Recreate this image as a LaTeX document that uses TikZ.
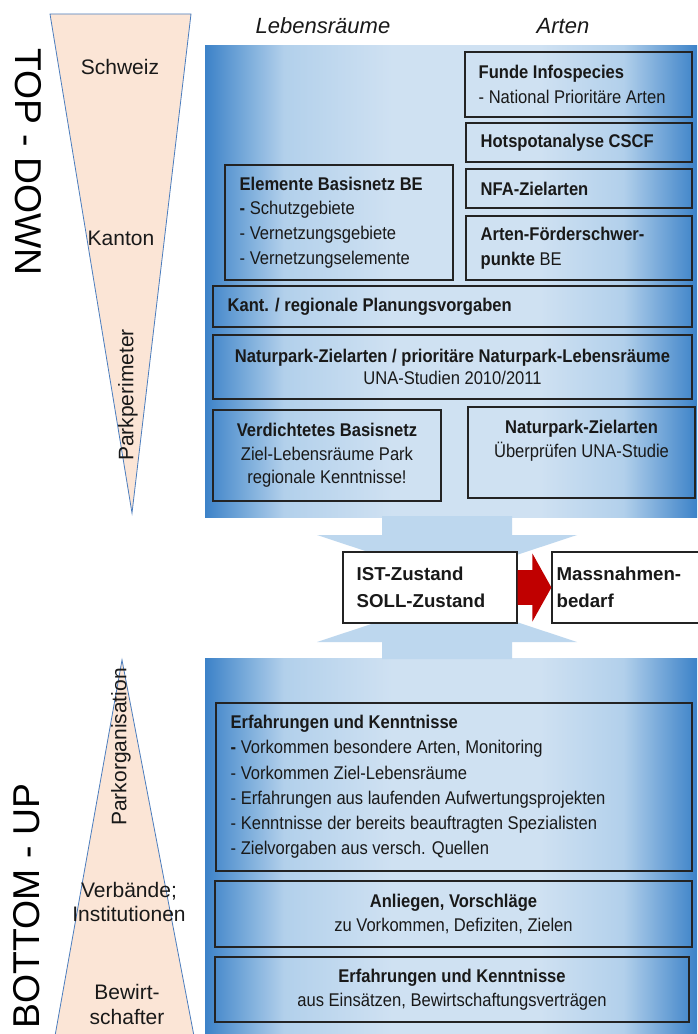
\documentclass[tikz,border=0pt]{standalone}
\usepackage{fontspec}
\setmainfont{Liberation Sans}
\newfontfamily\narrowfont{Liberation Sans}[FakeStretch=0.9]
\usepackage{tikz}
\usetikzlibrary{
	positioning,
	calc,
	fit
}
\definecolor{PanelDark}{RGB}{60,130,200}
\definecolor{PanelMid}{RGB}{178,208,235}
\definecolor{PanelLight}{RGB}{207,225,242}
\definecolor{ConePeach}{RGB}{251,229,214}
\definecolor{ConeLine}{RGB}{75,125,190}
\definecolor{FlowBlue}{RGB}{189,215,238}
\definecolor{FlowRed}{RGB}{192,0,0}
\definecolor{BoxLine}{RGB}{35,35,35}
\definecolor{TextGray}{RGB}{25,25,25}

\pgfdeclarehorizontalshading{panelshade}{100bp}{color(0bp)=(PanelDark); color(25bp)=(PanelDark); color(33bp)=(PanelMid); color(44bp)=(PanelLight); color(59bp)=(PanelLight); color(67.5bp)=(PanelMid); color(75bp)=(PanelDark); color(100bp)=(PanelDark)}

\begin{document}
\begin{tikzpicture}[
				x=0.75pt,
				y=-0.75pt,
				every node/.style={
					font=\narrowfont\fontsize{13.8}{18.75}\selectfont,
					text=TextGray,
					inner sep=0pt
				},
				box/.style={
					draw=BoxLine,
					line width=0.9pt,
					inner sep=0pt
				},
				lefttxt/.style={
					align=left,
					anchor=west
				},
				midtxt/.style={
					align=center
				},
				cone/.style={
					fill=ConePeach
				},
				conelabel/.style={
					font=\fontsize{15.75}{18}\selectfont,
					align=center
				},
				sidelabel/.style={
					font=\fontsize{28}{30}\selectfont,
					text=black
				},
				header/.style={
					font=\itshape\fontsize{16.5}{18}\selectfont
				},
				flowtxt/.style={
					font=\bfseries\fontsize{14}{19.8}\selectfont,
					align=left,
					anchor=west
				}
				]
				
				\useasboundingbox (0,0) rectangle (697,1034);
				\fill[white] (0,0) rectangle (697,1034);
				
				% Kegel links
				\fill[cone] (50,14) -- (191,14) -- (132,513) -- cycle;
				\draw[ConeLine, line width=0.6pt] (50,14) -- (191,14) -- (132,513) -- cycle;
				\fill[cone] (55,1036) -- (122,660) -- (194,1036) -- cycle;
				\draw[ConeLine, line width=0.6pt] (55,1036) -- (122,660) -- (194,1036);
				
				\node[sidelabel, rotate=-90] (topdown) at (28,162) {TOP - DOWN};
				\node[sidelabel, rotate=90] (bottomup) at (27,906) {BOTTOM - UP};
				
				\node[conelabel] (schweiz) at (120,67) {Schweiz};
				\node[conelabel] (kanton) at (121,238) {Kanton};
				\node[conelabel, rotate=90] (perimeter) at (128,395) {Parkperimeter};
				\node[conelabel, rotate=90] (parkorg) at (121,747) {Parkorganisation};
				\node[conelabel] (verbaende) at (129,902) {Verbände;\\Institutionen};
				\node[conelabel, font=\fontsize{15.75}{18.75}\selectfont] (bewirt) at (127,1004) {Bewirt-\\schafter};
				
				% Spalten
				\node[header] (habitat) at (323,26) {Lebensräume};
				\node[header] (species) at (563,26) {Arten};
				
				% Flaechen
				\shade[shading=panelshade] (205,46) rectangle (697,517);
				\shade[shading=panelshade] (205,658) rectangle (697,1034);
				
				% Pfeile zur Mitte
				\fill[FlowBlue] (382,516) -- (512,516) -- (512,535) -- (577,535) -- (447,578) -- (317,535) -- (382,535) -- cycle;
				\fill[FlowBlue] (382,659) -- (512,659) -- (512,642) -- (577,642) -- (447,599) -- (317,642) -- (382,642) -- cycle;
				
				% oben: Arten
				\node[box, fit={(465,52) (692,117)}] (funde) {};
				\node[lefttxt, right=10.5pt of funde.west] (fundetxt) {\textbf{Funde Infospecies}\\- National Prioritäre Arten};
				
				\node[box, fit={(466,123) (692,162)}] (hotspot) {};
				\node[lefttxt, right=11.25pt of hotspot.west] (hotspottxt) {\textbf{Hotspotanalyse CSCF}};
				
				\node[box, fit={(466,169) (692,208)}] (nfa) {};
				\node[lefttxt, right=11.25pt of nfa.west] (nfatxt) {\textbf{NFA-Zielarten}};
				
				\node[box, fit={(466,216) (692,280)}] (foerder) {};
				\node[lefttxt, right=11.25pt of foerder.west] (foerdertxt) {\textbf{Arten-Förderschwer-}\\\textbf{punkte} BE};
				
				% oben: Lebensraeume
				\node[box, fit={(225,165) (453,280)}] (basis) {};
				\node[lefttxt, right=11.25pt of basis.west, font=\narrowfont\fontsize{13.8}{18.5}\selectfont] (basistxt) {\textbf{Elemente Basisnetz BE}\\\textbf{-} Schutzgebiete\\- Vernetzungsgebiete\\- Vernetzungselemente};
				
				\node[box, fit={(213,286) (692,327)}] (kant) {};
				\node[lefttxt, right=11.25pt of kant.west] (kanttxt) {\textbf{Kant. / regionale Planungsvorgaben}};
				
				\node[box, fit={(213,335) (692,399)}] (zielarten) {};
				\node[midtxt, font=\narrowfont\fontsize{13.8}{16.5}\selectfont] (zielartentxt) at (zielarten.center) {\textbf{Naturpark-Zielarten / prioritäre Naturpark-Lebensräume}\\UNA-Studien 2010/2011};
				
				\node[box, fit={(213,410) (441,501)}] (verdicht) {};
				\node[midtxt, font=\narrowfont\fontsize{13.8}{17.6}\selectfont] (verdichttxt) at (verdicht.center) {\textbf{Verdichtetes Basisnetz}\\Ziel-Lebensräume Park\\regionale Kenntnisse!};
				
				\node[box, fit={(468,407) (695,498)}] (pruefen) {};
				\node[midtxt, font=\narrowfont\fontsize{13.8}{18}\selectfont] (pruefentxt) at ([yshift=9pt]pruefen.center) {\textbf{Naturpark-Zielarten}\\Überprüfen UNA-Studie};
				
				% Mitte
				\node[box, fill=white, fit={(343,552) (517,623)}] (ist) {};
				\node[flowtxt, right=10.5pt of ist.west] (isttxt) {IST-Zustand\\SOLL-Zustand};
				
				\node[box, fill=white, fit={(552,552) (712,623)}] (bedarf) {};
				\node[flowtxt, right=3.75pt of bedarf.west] (bedarftxt) {Massnahmen-\\bedarf};
				
				\fill[FlowRed] ([yshift=13pt]ist.east) -- ([xshift=-14.25pt,yshift=13pt]bedarf.west) -- ([xshift=-14.25pt,yshift=25.5pt]bedarf.west) -- (bedarf.west) -- ([xshift=-14.25pt,yshift=-25.5pt]bedarf.west) -- ([xshift=-14.25pt,yshift=-13pt]bedarf.west) -- ([yshift=-13pt]ist.east) -- cycle;
				
				% unten
				\node[box, fit={(216,703) (692,871)}] (wissen) {};
				\node[lefttxt, right=11.25pt of wissen.west, font=\narrowfont\fontsize{13.8}{18.9}\selectfont] (wissentxt) {\textbf{Erfahrungen und Kenntnisse}\\\textbf{-} Vorkommen besondere Arten, Monitoring\\- Vorkommen Ziel-Lebensräume\\- Erfahrungen aus laufenden Aufwertungsprojekten\\- Kenntnisse der bereits beauftragten Spezialisten\\- Zielvorgaben aus versch. Quellen};
				
				\node[box, fit={(215,881) (692,947)}] (anliegen) {};
				\node[midtxt, font=\narrowfont\fontsize{13.8}{18}\selectfont] (anliegentxt) at (anliegen.center) {\textbf{Anliegen, Vorschläge}\\zu Vorkommen, Defiziten, Zielen};
				
				\node[box, fit={(215,957) (689,1022)}] (einsatz) {};
				\node[midtxt, font=\narrowfont\fontsize{13.8}{18}\selectfont] (einsatztxt) at (einsatz.center) {\textbf{Erfahrungen und Kenntnisse}\\aus Einsätzen, Bewirtschaftungsverträgen};
				
			\end{tikzpicture}
\end{document}
